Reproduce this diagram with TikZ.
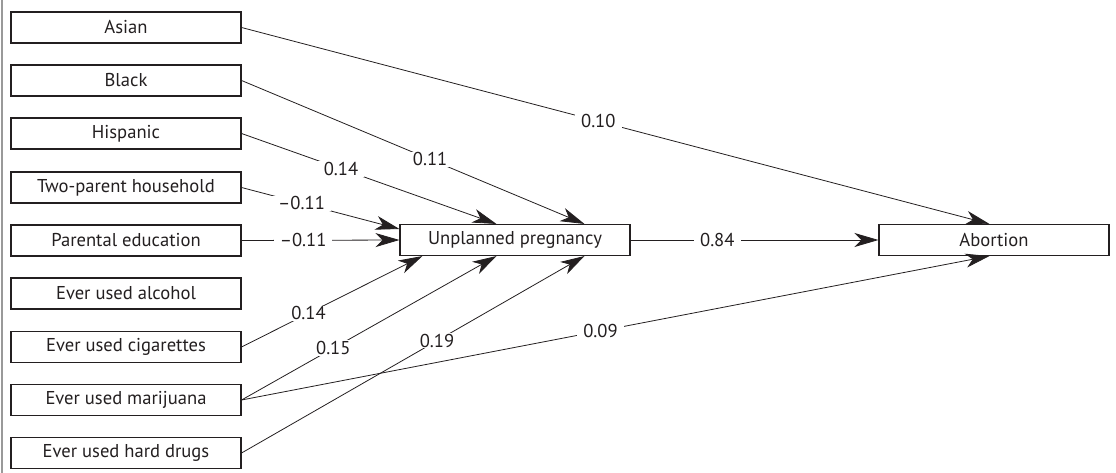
\documentclass[tikz,border=0pt]{standalone}
\usepackage{fontspec}
\setmainfont{PT Sans}
\usetikzlibrary{arrows.meta,calc}
\definecolor{ink}{HTML}{231F20}
\begin{document}
\begin{tikzpicture}[x=1pt,y=-1pt,
  var/.style={draw=ink,line width=1.1pt,minimum width=230pt,minimum height=31pt,
    inner sep=0pt,font=\fontsize{18.6}{20}\selectfont,text=ink},
  path/.style={draw=ink,line width=0.8pt,-{Stealth[length=24pt,width=14pt,inset=7pt]}},
  coef/.style={fill=white,inner xsep=6pt,inner ysep=1pt,font=\fontsize{18.6}{20}\selectfont,text=ink}]
\useasboundingbox (0,0) rectangle (1116,473);
% frame rule on the left
\draw[gray!80,line width=1.6pt] (2,0) -- (2,473);
% predictors
\node[var] (asian) at (126,27.5) {Asian};
\node[var] (black) at (126,80.5) {Black};
\node[var] (hisp) at (126,133.5) {Hispanic};
\node[var] (twop) at (126,187.5) {Two-parent household};
\node[var] (pared) at (126,240.5) {Parental education};
\node[var] (alc) at (126,293.5) {Ever used alcohol};
\node[var] (cig) at (126,347) {Ever used cigarettes};
\node[var] (mar) at (126,400) {Ever used marijuana};
\node[var] (hard) at (126,453) {Ever used hard drugs};
% mediator and outcome
\node[var] (up) at (515,240) {Unplanned pregnancy};
\node[var] (ab) at (994,240) {Abortion};
% paths
\draw[path] (asian.east) -- node[coef,pos=0.477] {0.10} ([xshift=111pt]ab.north west);
\draw[path] (black.east) -- node[coef,pos=0.55] {0.11} ([xshift=185pt]up.north west);
\draw[path] (hisp.east) -- node[coef,pos=0.39] {0.14} ([xshift=97pt]up.north west);
\draw[path] (twop.east) -- node[coef,pos=0.38] {--0.11} ([yshift=11pt]up.west);
\draw[path] (pared.east) -- node[coef,pos=0.39] {--0.11} (up.west);
\draw[path] (cig.east) -- node[coef,pos=0.37] {0.14} ([xshift=23pt]up.south west);
\draw[path] (mar.east) -- node[coef,pos=0.36] {0.15} ([xshift=97pt]up.south west);
\draw[path] (hard.east) -- node[coef,pos=0.57] {0.19} ([xshift=185pt]up.south west);
\draw[path] (mar.east) -- node[coef,pos=0.48] {0.09} ([xshift=111pt]ab.south west);
\draw[path] (up.east) -- node[coef,pos=0.35] {0.84} (ab.west);
\end{tikzpicture}
\end{document}
